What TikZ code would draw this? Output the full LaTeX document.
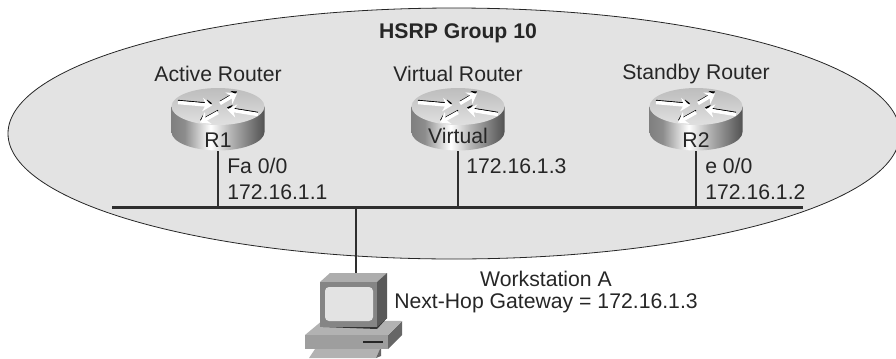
\documentclass[tikz,border=0pt]{standalone}
\usepackage{fontspec}
\setmainfont{Liberation Sans}
\usepackage{xcolor}
\usetikzlibrary{shapes.geometric,positioning,arrows.meta}
\pgfdeclarehorizontalshading{routerside}{100bp}{color(0bp)=(black!50); color(25bp)=(black!50); color(32bp)=(black!45); color(46bp)=(white); color(57bp)=(black!30); color(75bp)=(black!68); color(100bp)=(black!68)}
\newcommand{\flowarrow}[2]{\draw[flowshade] (#1) -- (#2); \draw[flow] (#1) -- (#2);}
\tikzset{
    lbl/.style={font=\fontsize{15.9}{18}\selectfont,inner sep=0pt,text=black!85},
    lblleft/.style={lbl,anchor=west},
    wire/.style={line width=1.8pt,black!82},
    flow/.style={white,line width=2.6pt,-{Stealth[length=7pt,width=10pt]}},
    flowshade/.style={black,yshift=1.6pt,line width=0.8pt,-{Stealth[length=4pt,width=5pt]}},
    router/.pic={
        \path[shading=routerside] (-46.5,0) -- (-46.5,25.5) arc[start angle=180,end angle=0,x radius=46.5,y radius=18.5] -- (46.5,0) -- cycle;
        \path[top color=black!26,bottom color=black!12] (0,0) ellipse[x radius=46.5,y radius=18.5];
        % arrows on the top
        \flowarrow{-40,-4}{-6,-1}
        \flowarrow{2,-3}{19,-13}
        \flowarrow{40,8}{9,3}
        \flowarrow{0,6}{-18,16}
    }
}
\begin{document}
\begin{tikzpicture}[x=0.75pt,y=-0.75pt]
    \useasboundingbox (0,0) rectangle (896,358);
    % HSRP group
    \node[draw=black!85,line width=0.6pt,fill=black!11,ellipse,minimum width=669pt,minimum height=188.25pt,inner sep=0pt] (group) at (454,133.5) {};
    \node[lbl,font=\fontsize{15.9}{18}\selectfont\bfseries] (title) at (458,33) {HSRP Group 10};
    % Routers
    \pic at (218,106.5) {router};
    \pic at (458,106.5) {router};
    \pic at (696,106.5) {router};
    \node[lbl] (active) at (218,74) {Active Router};
    \node[lbl] (virtual) at (458,74) {Virtual Router};
    \node[lbl] (standby) at (696,74) {Standby Router};
    \node[lbl] (R1) at (218,140) {R1};
    \node[lbl] (Vr) at (458,136) {Virtual};
    \node[lbl] (R2) at (696,140) {R2};
    % Feet of the routers
    \coordinate (r1foot) at (218,151);
    \coordinate (vrfoot) at (458,151);
    \coordinate (r2foot) at (696,151);
    % LAN
    \coordinate (busL) at (112,207.5);
    \coordinate (busR) at (803,207.5);
    \draw[wire] (busL) -- (busR);
    \draw[wire] (r1foot) -- (r1foot |- busL);
    \draw[wire] (vrfoot) -- (vrfoot |- busL);
    \draw[wire] (r2foot) -- (r2foot |- busL);
    \coordinate (pctop) at (356,274);
    \draw[wire] (pctop |- busL) -- (pctop);
    % Interfaces
    \node[lblleft] (fa) at (227,166) {Fa 0/0};
    \node[lblleft] (ip1) at (227,192) {172.16.1.1};
    \node[lblleft] (ip3) at (466,166) {172.16.1.3};
    \node[lblleft] (e0) at (705,166) {e 0/0};
    \node[lblleft] (ip2) at (705,192) {172.16.1.2};
    % Workstation
    \fill[black!30] (315,349) -- (380,349) -- (376,358) -- (309,358) -- cycle;
    \fill[black!60] (380,349) -- (381,349) -- (381,356) -- (376,358) -- cycle;
    \fill[black!60] (388,349) -- (402,335) -- (402,321) -- (388,335) -- cycle;
    \fill[black!30] (305,335) -- (323,320) -- (402,321) -- (388,335) -- cycle;
    \fill[black!38] (305,335) rectangle (388,349);
    \fill[black!85] (363,341) rectangle (383,343);
    \fill[black!80] (323,327) -- (377,329) -- (387,318) -- (377,318) -- cycle;
    \fill[black!32] (320,282) -- (330,273) -- (387,273) -- (377,282) -- cycle;
    \fill[black!65] (377,282) -- (387,273) -- (387,318) -- (377,327) -- cycle;
    \fill[black!48] (320,282) rectangle (377,327);
    \fill[black!11,rounded corners=3pt] (325,287) rectangle (373,321);
    \node[lbl] (wsname) at (546,279) {Workstation A};
    \node[lbl] (wsgw) at (546,303) {Next-Hop Gateway = 172.16.1.3};
\end{tikzpicture}
\end{document}
